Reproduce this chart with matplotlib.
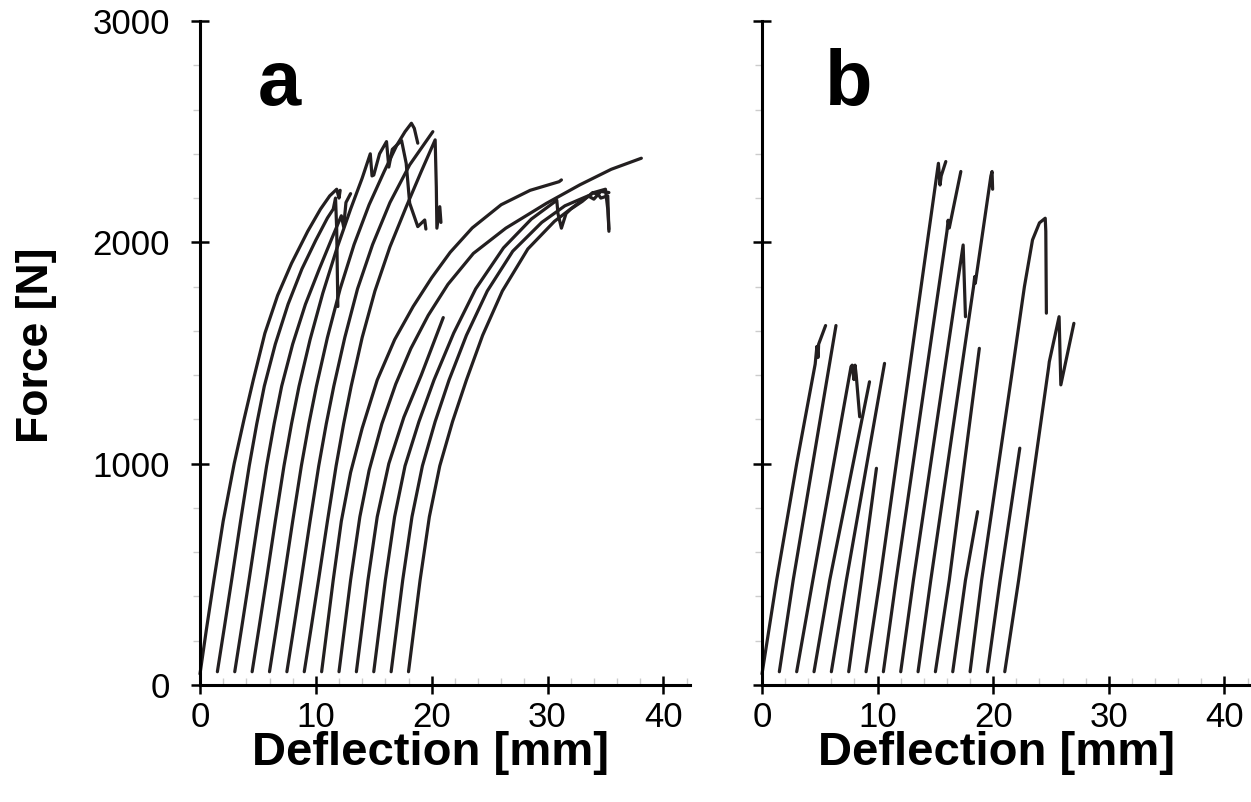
import matplotlib as mpl
mpl.use('Agg')
import matplotlib.pyplot as plt
from matplotlib.ticker import MultipleLocator

plt.rcParams['font.family'] = ['Liberation Sans', 'DejaVu Sans']

# panel a: (deflection [mm], force [N])
a_01 = [(0, 50), (0.55, 250), (1.2, 474), (2.0, 740), (2.95, 1000), (3.8, 1200), (4.6, 1378),
        (5.6, 1589), (6.7, 1760), (7.9, 1905), (9.3, 2050), (10.4, 2150), (11.2, 2210),
        (11.8, 2240), (12.0, 2200), (12.1, 2235)]
a_02 = [(1.5, 60), (2.1, 260), (2.75, 480), (3.5, 740), (4.25, 990), (4.9, 1180), (5.55, 1350),
        (6.5, 1540), (7.6, 1720), (8.8, 1880), (10.0, 2010), (11.0, 2110), (11.5, 2150),
        (11.7, 2200), (11.8, 2060), (11.9, 1710)]
a_03 = [(3.0, 60), (3.6, 260), (4.25, 480), (5.0, 740), (5.75, 990), (6.4, 1180), (7.05, 1350),
        (8.0, 1540), (9.1, 1720), (10.3, 1880), (11.4, 2020), (12.2, 2120), (12.4, 2070),
        (12.6, 2180), (13.0, 2220)]
a_04 = [(4.5, 60), (5.1, 260), (5.75, 480), (6.5, 740), (7.25, 990), (7.9, 1180), (8.55, 1350),
        (9.5, 1560), (10.6, 1770), (11.8, 1970), (13.0, 2150), (14.0, 2290), (14.7, 2400),
        (14.85, 2300), (15.0, 2304), (15.5, 2400), (16.1, 2455), (16.3, 2340), (16.6, 2420),
        (17.4, 2460), (17.8, 2357), (18.1, 2177), (18.8, 2071), (19.4, 2101), (19.5, 2060)]
a_05 = [(6.0, 60), (6.6, 260), (7.25, 480), (8.0, 740), (8.75, 990), (9.4, 1180), (10.05, 1350),
        (11.0, 1570), (12.1, 1790), (13.3, 1990), (14.6, 2170), (15.9, 2320), (17.0, 2440),
        (17.7, 2500), (18.25, 2538), (18.5, 2515), (18.8, 2448)]
a_06 = [(7.5, 60), (8.1, 260), (8.75, 480), (9.5, 740), (10.25, 990), (10.9, 1180),
        (11.55, 1350), (12.5, 1570), (13.6, 1790), (14.9, 1990), (16.4, 2180), (18.1, 2350),
        (20.1, 2500)]
a_07 = [(9.0, 60), (9.6, 260), (10.25, 480), (11.0, 740), (11.75, 990), (12.4, 1180),
        (13.05, 1350), (14.0, 1570), (15.1, 1780), (16.4, 1980), (17.8, 2160), (19.1, 2320),
        (20.3, 2463), (20.4, 2250), (20.45, 2064), (20.7, 2161), (20.8, 2090)]
a_08 = [(10.5, 60), (11.5, 474), (12.2, 740), (13.0, 960), (14.0, 1160), (15.3, 1378),
        (16.8, 1560), (18.4, 1710), (20.0, 1840), (21.6, 1955), (23.5, 2065), (26.0, 2170),
        (28.5, 2235), (31.0, 2274), (31.2, 2282)]
a_09 = [(12.0, 60), (13.0, 474), (13.8, 760), (14.6, 970), (15.7, 1180), (16.9, 1360),
        (18.2, 1520), (19.7, 1670), (21.4, 1810), (23.6, 1950), (26.4, 2064), (29.9, 2176),
        (32.8, 2260), (35.5, 2330), (38.1, 2380)]
a_10 = [(13.5, 60), (14.5, 474), (15.3, 760), (16.3, 1000), (17.6, 1210), (19.1, 1400),
        (21.0, 1660)]
a_11 = [(15.0, 60), (16.0, 474), (16.8, 760), (17.7, 990), (18.9, 1190), (20.2, 1378),
        (21.9, 1590), (23.8, 1790), (26.2, 1975), (28.6, 2105), (30.8, 2190), (30.9, 2130),
        (31.2, 2064), (31.6, 2130), (32.0, 2150), (33.0, 2185), (33.9, 2225), (34.4, 2215),
        (34.6, 2200), (35.2, 2210), (35.3, 2050)]
a_12 = [(16.5, 60), (17.5, 474), (18.3, 760), (19.2, 990), (20.3, 1190), (21.5, 1378),
        (23.0, 1580), (24.8, 1780), (27.0, 1960), (29.5, 2090), (31.5, 2165), (33.5, 2210),
        (34.0, 2195), (34.6, 2230), (35.3, 2225)]
a_13 = [(18.0, 60), (19.0, 474), (19.8, 760), (20.7, 990), (21.8, 1190), (23.0, 1378),
        (24.4, 1580), (26.1, 1780), (28.3, 1970), (30.6, 2095), (32.6, 2175), (34.0, 2225),
        (35.0, 2240), (35.2, 2150), (35.3, 2060)]

# panel b
b_01 = [(0, 50), (1.27, 474), (3.0, 1000), (4.6, 1450), (4.75, 1530), (4.85, 1480),
        (4.9, 1540), (5.5, 1624)]
b_02 = [(1.5, 60), (2.7, 474), (6.4, 1624)]
b_03 = [(3.0, 60), (4.4, 474), (7.7, 1438), (7.8, 1445), (7.95, 1380), (8.05, 1445),
        (8.15, 1400), (8.45, 1212)]
b_04 = [(4.5, 60), (5.86, 474), (9.3, 1370)]
b_05 = [(6.0, 60), (7.3, 474), (10.6, 1453)]
b_06 = [(7.5, 60), (8.6, 474), (9.9, 979)]
b_07 = [(9.0, 60), (10.2, 474), (15.26, 2357), (15.4, 2259), (15.5, 2300), (15.9, 2365)]
b_08 = [(10.5, 60), (11.6, 474), (16.0, 2050), (16.1, 2100), (16.2, 2065), (17.2, 2320)]
b_09 = [(12.0, 60), (13.1, 474), (17.4, 1988), (17.6, 1664)]
b_10 = [(13.5, 60), (14.6, 474), (18.3, 1800), (18.4, 1845), (18.45, 1815), (19.8, 2300),
        (19.9, 2320), (19.95, 2240)]
b_11 = [(15.0, 60), (16.2, 474), (18.8, 1521)]
b_12 = [(16.5, 60), (17.6, 474), (18.65, 783)]
b_13 = [(18.0, 60), (19.0, 474), (21.6, 1400), (22.7, 1800), (23.4, 2011), (24.0, 2088),
        (24.5, 2109), (24.55, 2050), (24.6, 1680)]
b_14 = [(19.5, 60), (20.6, 474), (22.3, 1070)]
b_15 = [(21.0, 60), (22.2, 474), (24.8, 1438), (24.85, 1460), (25.7, 1664), (25.85, 1356),
        (26.98, 1634)]

curves_a = [a_01, a_02, a_03, a_04, a_05, a_06, a_07, a_08, a_09, a_10, a_11, a_12, a_13]
curves_b = [b_01, b_02, b_03, b_04, b_05, b_06, b_07, b_08, b_09, b_10, b_11, b_12,
            b_13, b_14, b_15]

x_ticks = [0, 10, 20, 30, 40]
y_ticks = [0, 1000, 2000, 3000]

W, H = 1251, 802
fig = plt.figure(figsize=(W / 100, H / 100), dpi=100)
ax_a = fig.add_axes([200 / W, 1 - 685 / H, 490 / W, 664 / H])
ax_b = fig.add_axes([762 / W, 1 - 685 / H, 489 / W, 664 / H])

line_col = '#231f20'
for ax, curves in ((ax_a, curves_a), (ax_b, curves_b)):
    for c in curves:
        xs = [p[0] for p in c]
        fs = [p[1] for p in c]
        ax.plot(xs, fs, color=line_col, lw=2.3, solid_joinstyle='round',
                solid_capstyle='round', clip_on=False)
    ax.set_xlim(0, 42.3)
    ax.set_ylim(0, 3000)
    for s in ('top', 'right'):
        ax.spines[s].set_visible(False)
    for s in ('left', 'bottom'):
        ax.spines[s].set_linewidth(2.2)
        ax.spines[s].set_color('black')
    ax.set_xticks(x_ticks)
    ax.set_yticks(y_ticks)
    ax.xaxis.set_minor_locator(MultipleLocator(2))
    ax.yaxis.set_minor_locator(MultipleLocator(200))
    ax.tick_params(which='major', direction='inout', length=13, width=1.8,
                   labelsize=25, color='black')
    ax.tick_params(axis='x', which='major', pad=5)
    ax.tick_params(axis='y', which='major', pad=15)
    ax.tick_params(axis='x', which='minor', direction='in', length=5, width=1,
                   color='#cccccc')
    ax.tick_params(axis='y', which='minor', direction='out', length=5, width=1,
                   color='#cccccc')

ax_b.tick_params(axis='y', labelleft=False)

fig.text(430 / W, 1 - 753 / H, 'Deflection [mm]', fontsize=34, fontweight='bold',
         ha='center', va='center')
fig.text(996 / W, 1 - 753 / H, 'Deflection [mm]', fontsize=34, fontweight='bold',
         ha='center', va='center')
fig.text(37 / W, 1 - 345 / H, 'Force [N]', fontsize=32, fontweight='bold',
         ha='center', va='center', rotation=90)
fig.text(258 / W, 1 - 105 / H, 'a', fontsize=56, fontweight='bold',
         ha='left', va='baseline')
fig.text(825 / W, 1 - 105 / H, 'b', fontsize=56, fontweight='bold',
         ha='left', va='baseline')

fig.savefig('out.png', dpi=100)
